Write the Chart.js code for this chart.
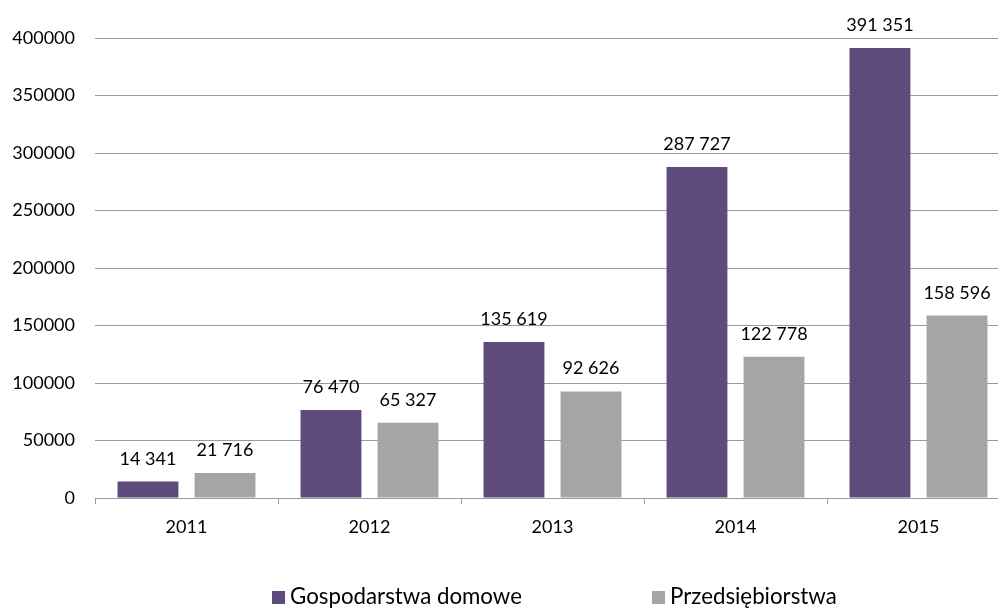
<!DOCTYPE html>
<html>
<head>
<meta charset="utf-8">
<script src="https://cdn.jsdelivr.net/npm/chart.js@4"></script>
<style>
html,body{margin:0;padding:0;background:#fff;overflow:hidden;width:998px;height:608px;}
#wrap{width:1020px;height:608px;position:relative;}
</style>
</head>
<body>
<div id="wrap"><canvas id="c" width="1020" height="608"></canvas></div>
<script>
const categories = ['2011', '2012', '2013', '2014', '2015'];
const households = [14341, 76470, 135619, 287727, 391351];
const companies = [21716, 65327, 92626, 122778, 158596];
const seriesNames = ['Gospodarstwa domowe', 'Przedsiębiorstwa'];
const yTicks = [0, 50000, 100000, 150000, 200000, 250000, 300000, 350000, 400000];

const FONT = 'Lato, "Open Sans", sans-serif';

function fmt(v) {
  return String(v).replace(/\B(?=(\d{3})+(?!\d))/g, ' ');
}

const valueLabels = {
  id: 'valueLabels',
  afterDatasetsDraw(chart) {
    const ctx = chart.ctx;
    ctx.save();
    ctx.font = '18px ' + FONT;
    ctx.fillStyle = '#000';
    ctx.textAlign = 'center';
    ctx.textBaseline = 'alphabetic';
    chart.data.datasets.forEach((ds, di) => {
      const meta = chart.getDatasetMeta(di);
      meta.data.forEach((bar, i) => {
        ctx.fillText(fmt(ds.data[i]), bar.x, bar.y - 17);
      });
    });
    ctx.restore();
  }
};

// legend drawn below the plot, Excel-style
const bottomLegend = {
  id: 'bottomLegend',
  afterDraw(chart) {
    const ctx = chart.ctx;
    const itemX = [272, 652];
    const boxTop = 591, box = 13, baseline = 604;
    ctx.save();
    ctx.font = '20px ' + FONT;
    const w = ctx.measureText(chart.data.datasets[0].label).width;
    const size = Math.max(16, Math.min(24, 20 * 232 / w));
    ctx.font = size.toFixed(2) + 'px ' + FONT;
    ctx.textAlign = 'left';
    ctx.textBaseline = 'alphabetic';
    chart.data.datasets.forEach((ds, i) => {
      ctx.fillStyle = ds.backgroundColor;
      ctx.fillRect(itemX[i], boxTop, box, box);
      ctx.fillStyle = '#000';
      ctx.fillText(ds.label, itemX[i] + box + 5, baseline);
    });
    ctx.restore();
  }
};

new Chart(document.getElementById('c'), {
  type: 'bar',
  data: {
    labels: categories,
    datasets: [
      { label: seriesNames[0], data: households, backgroundColor: '#5F4B7B' },
      { label: seriesNames[1], data: companies, backgroundColor: '#A5A5A5' }
    ]
  },
  options: {
    responsive: false,
    animation: false,
    devicePixelRatio: 1,
    layout: { padding: { top: 38, right: 10, left: 0, bottom: 68 } },
    datasets: { bar: { categoryPercentage: 0.842, barPercentage: 0.79 } },
    plugins: {
      legend: { display: false },
      tooltip: { enabled: false }
    },
    scales: {
      y: {
        min: 0, max: 400000,
        afterBuildTicks(scale) { scale.ticks = yTicks.map(v => ({ value: v })); },
        afterFit(scale) { scale.width = 95; },
        ticks: {
          font: { family: FONT, size: 18 },
          color: '#000',
          padding: 20,
          callback: v => String(v)
        },
        grid: { color: '#9A9A9A', lineWidth: 1, drawTicks: false },
        border: { display: false }
      },
      x: {
        afterFit(scale) { scale.height = 42; },
        ticks: { font: { family: FONT, size: 18 }, color: '#000', padding: 12 },
        grid: { offset: true, drawOnChartArea: false, color: '#9A9A9A', tickLength: 6 },
        border: { display: true, color: '#9A9A9A' }
      }
    }
  },
  plugins: [valueLabels, bottomLegend]
});
</script>
</body>
</html>
